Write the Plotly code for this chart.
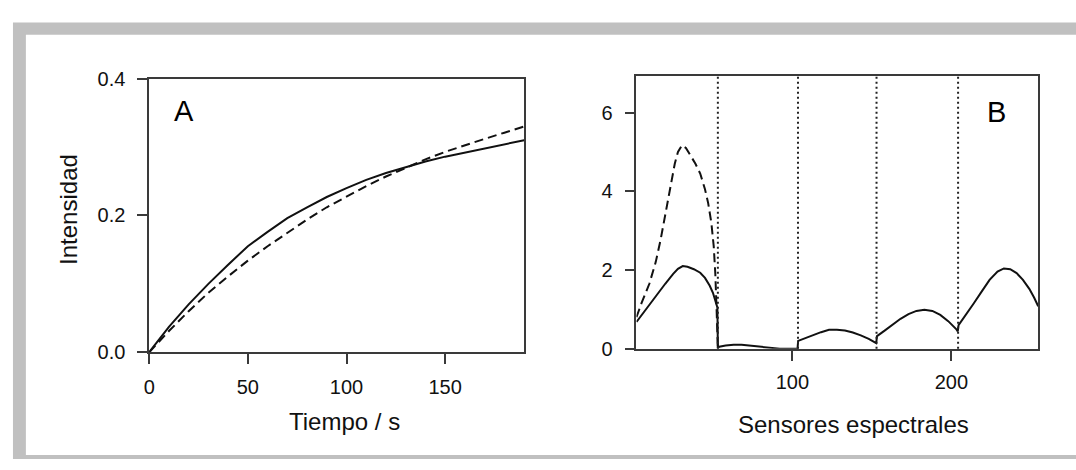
import plotly.graph_objects as go

# ---------------- Panel A data ----------------
tiempo = [0, 10, 20, 30, 40, 50, 60, 70, 80, 90, 100, 110, 120, 130, 140, 150, 160, 170, 180, 190]
intensidad_solida = [0.000, 0.037, 0.070, 0.100, 0.128, 0.155, 0.176, 0.196, 0.212, 0.227, 0.240,
                     0.252, 0.262, 0.271, 0.279, 0.286, 0.292, 0.298, 0.304, 0.310]
intensidad_discontinua = [0.000, 0.031, 0.060, 0.087, 0.111, 0.134, 0.155, 0.175, 0.194, 0.212, 0.228,
                          0.243, 0.257, 0.270, 0.282, 0.293, 0.303, 0.312, 0.321, 0.330]
ticks_a_x = [0, 50, 100, 150]
ticks_a_y = [0.0, 0.2, 0.4]
labels_a_y = ["0.0", "0.2", "0.4"]

# ---------------- Panel B data ----------------
sensores_solida = [1.9, 5, 10, 15, 20, 25, 28, 31, 34, 38, 42, 45, 48, 50, 52, 52.8, 53.1,
                   54, 58, 63, 68, 73, 78, 83, 88, 92, 100, 103.2,
                   103.6, 108, 113, 118, 123, 128, 133, 138, 143, 148, 152.7,
                   153.2, 158, 163, 168, 173, 178, 183, 188, 193, 198, 203, 204,
                   204.5, 209, 214, 219, 224, 229, 233, 237, 241, 245, 249, 252, 254.6]
espectro_solido = [0.68, 0.85, 1.12, 1.38, 1.65, 1.90, 2.03, 2.10, 2.08, 2.02, 1.93, 1.80, 1.60, 1.42, 1.18, 1.05, 0.02,
                   0.05, 0.08, 0.10, 0.10, 0.08, 0.06, 0.04, 0.02, 0.00, 0.00, 0.00,
                   0.20, 0.27, 0.35, 0.42, 0.48, 0.48, 0.46, 0.41, 0.34, 0.25, 0.14,
                   0.32, 0.46, 0.61, 0.76, 0.88, 0.96, 0.99, 0.96, 0.86, 0.70, 0.50, 0.44,
                   0.60, 0.85, 1.15, 1.45, 1.75, 1.96, 2.04, 2.02, 1.92, 1.75, 1.52, 1.30, 1.08]
sensores_discontinua = [1.9, 5, 10, 14, 17, 20, 23, 26, 28, 30.5, 33, 36, 39, 42, 45, 47, 49, 50.5, 51.5, 52.3, 53.1]
espectro_discontinuo = [0.80, 1.15, 1.65, 2.20, 2.75, 3.40, 4.10, 4.70, 5.00, 5.17, 5.10, 4.90, 4.70, 4.45,
                        4.05, 3.70, 3.20, 2.60, 1.90, 1.00, 0.02]
limites_sensores = [53.1, 103.5, 152.9, 204.2]
ticks_b_x = [100, 200]
ticks_b_y = [0, 2, 4, 6]

# ---------------- Geometry helpers (pixels -> paper) ----------------
W, H = 1076, 470
def px(x):
    return x / W
def py(y):
    return 1 - y / H

FONT = "Liberation Sans, Arial, sans-serif"
TXT = "#111111"
AXC = "#3a3a3a"

fig = go.Figure()

fig.add_trace(go.Scatter(x=tiempo, y=intensidad_discontinua, mode="lines",
                         line=dict(color="#111111", width=2, dash="9px,5px"),
                         xaxis="x", yaxis="y", showlegend=False, hoverinfo="skip"))
fig.add_trace(go.Scatter(x=tiempo, y=intensidad_solida, mode="lines",
                         line=dict(color="#111111", width=2),
                         xaxis="x", yaxis="y", showlegend=False, hoverinfo="skip"))

fig.add_trace(go.Scatter(x=sensores_discontinua, y=espectro_discontinuo, mode="lines",
                         line=dict(color="#111111", width=2, dash="9px,5px"),
                         xaxis="x2", yaxis="y2", showlegend=False, hoverinfo="skip"))
fig.add_trace(go.Scatter(x=sensores_solida, y=espectro_solido, mode="lines",
                         line=dict(color="#111111", width=2),
                         xaxis="x2", yaxis="y2", showlegend=False, hoverinfo="skip"))

axis_common = dict(showline=True, linecolor=AXC, linewidth=1.6, mirror=True,
                   ticks="outside", ticklen=10, tickwidth=1.6, tickcolor=AXC,
                   showgrid=False, zeroline=False,
                   tickfont=dict(family=FONT, size=20, color=TXT))

shapes = [
    dict(type="rect", xref="paper", yref="paper", x0=px(7), x1=1.0, y0=0.0, y1=py(12),
         fillcolor="#c0c0c0", line=dict(width=0), layer="below"),
    dict(type="rect", xref="paper", yref="paper", x0=px(20), x1=1.0, y0=py(465.7), y1=py(25),
         fillcolor="#ffffff", line=dict(width=0), layer="below"),
]
for b in limites_sensores:
    shapes.append(dict(type="line", xref="x2", yref="y2 domain", x0=b, x1=b, y0=0, y1=1,
                       line=dict(color="#222222", width=2, dash="2px,3px")))

annotations = [
    dict(text="A", x=px(179), y=py(105), xref="paper", yref="paper", showarrow=False,
         font=dict(family=FONT, size=29, color="#000000"), xanchor="center", yanchor="middle"),
    dict(text="B", x=px(996), y=py(106), xref="paper", yref="paper", showarrow=False,
         font=dict(family=FONT, size=29, color="#000000"), xanchor="center", yanchor="middle"),
    dict(text="Tiempo / s", x=px(340), y=py(431), xref="paper", yref="paper", showarrow=False,
         font=dict(family=FONT, size=24, color=TXT), xanchor="center", yanchor="middle"),
    dict(text="Sensores espectrales", x=px(852), y=py(434), xref="paper", yref="paper", showarrow=False,
         font=dict(family=FONT, size=24, color=TXT), xanchor="center", yanchor="middle"),
    dict(text="Intensidad", x=px(63), y=py(208), xref="paper", yref="paper", showarrow=False,
         textangle=-90, font=dict(family=FONT, size=24, color=TXT), xanchor="center", yanchor="middle"),
]

fig.update_layout(
    width=W, height=H, autosize=False,
    margin=dict(l=0, r=0, t=0, b=0),
    paper_bgcolor="#ffffff", plot_bgcolor="rgba(0,0,0,0)",
    xaxis=dict(domain=[px(144), px(521)], range=[0, 190], tickvals=ticks_a_x,
               ticklabelstandoff=6, anchor="y", **axis_common),
    yaxis=dict(domain=[py(358), py(71)], range=[0, 0.4], tickvals=ticks_a_y, ticktext=labels_a_y,
               ticklabelstandoff=8, anchor="x", **axis_common),
    xaxis2=dict(domain=[px(634), px(1038)], range=[1.9, 254.6], tickvals=ticks_b_x,
                ticklabelstandoff=4, anchor="y2", **axis_common),
    yaxis2=dict(domain=[py(354.3), py(67.7)], range=[0, 6.94], tickvals=ticks_b_y,
                ticklabelstandoff=8, anchor="x2", **axis_common),
    shapes=shapes,
    annotations=annotations,
)

fig.write_html("out.html", config={"displayModeBar": False},
               post_script="document.body.style.margin='0';document.body.style.padding='0';"
                           "document.documentElement.style.overflow='hidden';")
